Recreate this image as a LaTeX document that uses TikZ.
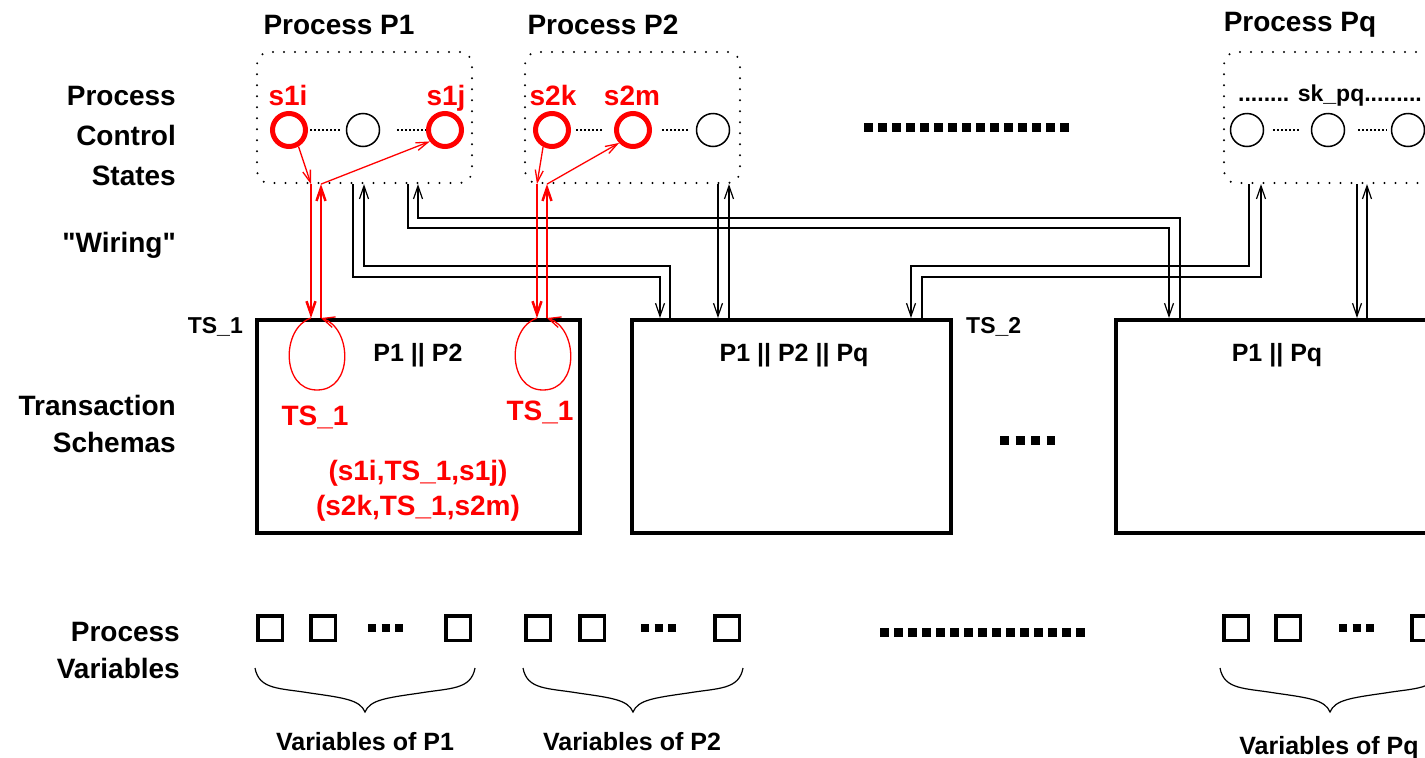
\documentclass[tikz,border=0pt]{standalone}
\usepackage{fontspec}
\setmainfont{Liberation Sans}
\newfontfamily\plainsans{Liberation Sans}
\usetikzlibrary{arrows.meta}

\tikzset{
  big/.style={font=\fontsize{28}{40}\selectfont\bfseries, inner sep=0pt},
  mid/.style={font=\fontsize{25}{30}\selectfont\bfseries, inner sep=0pt},
  small/.style={font=\fontsize{23}{28}\selectfont\bfseries, inner sep=0pt},
  lbl/.style={big, align=right, anchor=east},
  procbox/.style={draw, line width=2.2pt, dash pattern=on 0pt off 11pt, line cap=round,
    rounded corners=12pt, minimum width=215pt, minimum height=131pt, inner sep=0pt},
  tsbox/.style={draw, line width=4pt, minimum height=213pt, inner sep=0pt},
  state/.style={circle, draw, line width=1.5pt, minimum size=33pt, inner sep=0pt},
  redstate/.style={state, red, line width=5pt},
  link/.style={line width=2.5pt, dash pattern=on 2pt off 2pt},
  var/.style={draw, line width=3.5pt, minimum size=24.5pt, inner sep=0pt},
  wire/.style={line width=1.2pt, -{Straight Barb[length=13pt,width=9pt]}},
  redlink/.style={red, line width=1.3pt, -{Straight Barb[length=12pt,width=8pt]}},
  redwire/.style={red, line width=2.5pt, -{Straight Barb[length=13pt,width=9pt]}},
  redloop/.style={red, line width=1.3pt, -{Straight Barb[length=12pt,width=11pt]}},
  brace/.style={line width=1.2pt},
}

\begin{document}
\begin{tikzpicture}[x=1pt,y=-1pt]

\useasboundingbox (0,0) rectangle (1425,758);
\clip (0,0) rectangle (1425,758);

% left column
\node[lbl] (pcs) at (176,136) {Process\\Control\\States};
\node[lbl, font=\fontsize{28}{40}\selectfont\plainsans\bfseries] (wiring) at (176,245) {"Wiring"};
\node[lbl, font=\fontsize{28}{37}\selectfont\bfseries] (trs) at (176,424) {Transaction\\Schemas};
\node[lbl, font=\fontsize{28}{37}\selectfont\bfseries] (pvar) at (180,650) {Process\\Variables};

% processes
\node[procbox] (p1) at (364.5,117.5) {};
\node[procbox] (p2) at (632.5,117.5) {};
\node[procbox] (pq) at (1331.5,117.5) {};
\node[big] (t1) at (339,25) {Process P1};
\node[big] (t2) at (603,25) {Process P2};
\node[big] (tq) at (1300,25) {Process Pq};

% control states
\node[redstate] (s1i) at (289,130) {};
\node[state] (m1) at (363,130) {};
\node[redstate] (s1j) at (445,130) {};
\node[redstate] (s2k) at (552,130) {};
\node[redstate] (s2m) at (633,130) {};
\node[state] (m2) at (713,130) {};
\node[state] (q1) at (1247,130) {};
\node[state] (q2) at (1328,130) {};
\node[state] (q3) at (1408,130) {};

\node[big, red, anchor=base] (ls1i) at (288,105) {s1i};
\node[big, red, anchor=base] (ls1j) at (446,105) {s1j};
\node[big, red, anchor=base] (ls2k) at (553,105) {s2k};
\node[big, red, anchor=base] (ls2m) at (632,105) {s2m};
\node[small, anchor=base] (lsk) at (1330,101) {........ sk\_pq.........};

\draw[link, shorten <=2pt, shorten >=5pt] (s1i) -- (m1);
\draw[link, shorten <=17pt, shorten >=0pt] (m1) -- (s1j);
\draw[link, shorten <=5pt, shorten >=11pt] (s2k) -- (s2m);
\draw[link, shorten <=10pt, shorten >=6pt] (s2m) -- (m2);
\draw[link, shorten <=9pt, shorten >=11pt] (q1) -- (q2);
\draw[link, shorten <=13pt, shorten >=4pt] (q2) -- (q3);

\draw[line width=9pt, dash pattern=on 9pt off 5pt] (864,127) -- (1069,127);

% transaction schemas
\node[tsbox, minimum width=323pt] (box1) at (418.5,426.5) {};
\node[tsbox, minimum width=319pt] (box2) at (791.5,426.5) {};
\node[tsbox, minimum width=320pt] (box3) at (1276,426.5) {};
\node[mid] (h1) at (418,355) {P1 || P2};
\node[mid] (h2) at (794,355) {P1 || P2 || Pq};
\node[mid] (h3) at (1277,355) {P1 || Pq};
\node[small, anchor=east] (ts1) at (243,327) {TS\_1};
\node[small, anchor=west] (ts2) at (966,327) {TS\_2};
\draw[line width=9pt, dash pattern=on 9pt off 6.5pt] (1000,440) -- (1055,440);

\node[big, red] (lt1) at (315,417) {TS\_1};
\node[big, red] (lt2) at (540,412) {TS\_1};
\node[big, red] (tr1) at (418,473) {(s1i,TS\_1,s1j)};
\node[big, red] (tr2) at (418,508) {(s2k,TS\_1,s2m)};

% wiring
\draw[wire] (p1.south -| 353,0) -- (353,277) -- (660,277) -- (box2.north -| 660,0);
\draw[wire] (box2.north -| 670,0) -- (670,266) -- (364,266) -- (p1.south -| 364,0);
\draw[wire] (p1.south -| 408,0) -- (408,228) -- (1169,228) -- (box3.north -| 1169,0);
\draw[wire] (box3.north -| 1180,0) -- (1180,218) -- (418,218) -- (p1.south -| 418,0);
\draw[wire] (p2.south -| 718,0) -- (box2.north -| 718,0);
\draw[wire] (box2.north -| 729,0) -- (p2.south -| 729,0);
\draw[wire] (pq.south -| 1249,0) -- (1249,266) -- (911,266) -- (box2.north -| 911,0);
\draw[wire] (box2.north -| 922,0) -- (922,277) -- (1261,277) -- (pq.south -| 1261,0);
\draw[wire] (pq.south -| 1357,0) -- (box3.north -| 1357,0);
\draw[wire] (box3.north -| 1367,0) -- (pq.south -| 1367,0);

% red transaction TS_1
\draw[redlink] (s1i.-60) -- (p1.south -| 311,0);
\draw[redwire] (p1.south -| 311,0) -- (box1.north -| 311,0);
\draw[redloop] (box1.north -| 311,0) .. controls (281,328) and (281,390) .. (317,390)
  .. controls (354,390) and (352,328) .. (box1.north -| 321,0);
\draw[redwire] (box1.north -| 321,0) -- (p1.south -| 321,0);
\draw[redlink] (p1.south -| 321,0) -- (s1j.217);

\draw[redlink] (s2k.-118) -- (p2.south -| 537,0);
\draw[redwire] (p2.south -| 537,0) -- (box1.north -| 537,0);
\draw[redloop] (box1.north -| 537,0) .. controls (507,328) and (507,390) .. (543,390)
  .. controls (580,390) and (578,328) .. (box1.north -| 547,0);
\draw[redwire] (box1.north -| 547,0) -- (p2.south -| 547,0);
\draw[redlink] (p2.south -| 547,0) -- (s2m.223);

% process variables
\foreach \x [count=\i] in {270,323,458} \node[var] (va\i) at (\x,628) {};
\foreach \x [count=\i] in {538,592,727} \node[var] (vb\i) at (\x,628) {};
\foreach \x [count=\i] in {1236,1288,1424} \node[var] (vq\i) at (\x,628) {};
\draw[line width=8pt, dash pattern=on 8pt off 5.5pt] (368,628) -- (403,628);
\draw[line width=8pt, dash pattern=on 8pt off 5.5pt] (641,628) -- (676,628);
\draw[line width=8pt, dash pattern=on 8pt off 5.5pt] (1339,628) -- (1374,628);
\draw[line width=9pt, dash pattern=on 9pt off 5pt] (880,632) -- (1085,632);

\foreach \c in {365,633,1330}
  \draw[brace, shift={(\c,0)}] (-110,668) .. controls (-106,690) and (-85,688) .. (-55,693)
    .. controls (-20,698) and (-5,700) .. (0,712) .. controls (5,700) and (20,698) .. (55,693)
    .. controls (85,688) and (106,690) .. (110,668);

\node[mid, anchor=base] (vn1) at (365,750) {Variables of P1};
\node[mid, anchor=base] (vn2) at (632,750) {Variables of P2};
\node[mid, anchor=base] (vnq) at (1329,754) {Variables of Pq};

\end{tikzpicture}
\end{document}
